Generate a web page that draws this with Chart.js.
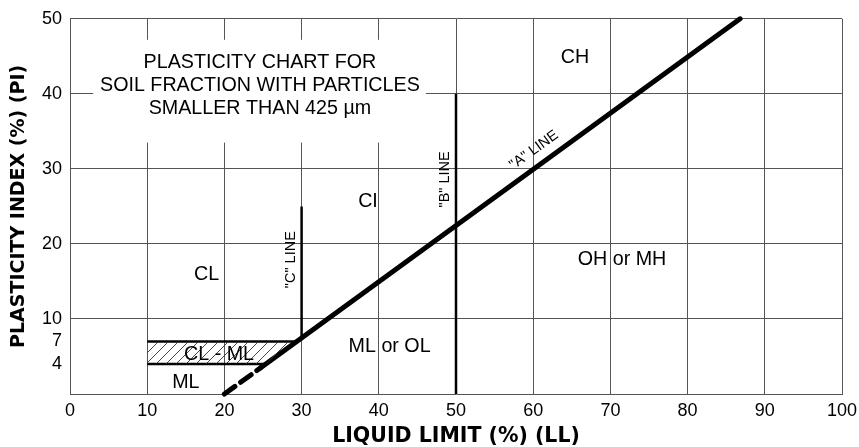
<!DOCTYPE html>
<html>
<head>
<meta charset="utf-8">
<script src="https://cdn.jsdelivr.net/npm/chart.js@4.4.1/dist/chart.umd.min.js"></script>
<style>
  html, body { margin: 0; padding: 0; background: #fff; }
</style>
</head>
<body>
<canvas id="chart" width="859" height="447"></canvas>
<script>
// "A" line: PI rises from 0 at LL 20, dashed up to the CL-ML band, then solid
const aDashLL = [20, 24.7];
const aDashPI = [0, 3.5];
const aLineLL = [24.7, 86.8];
const aLinePI = [3.5, 50];
// "B" and "C" lines
const bLineLL = [50, 50];
const bLinePI = [0, 40];
const cLineLL = [30, 30];
const cLinePI = [7.5, 25];
// CL - ML band between PI 4 and 7
const bandLL = [10, 25.3, 29.3, 10];
const bandPI = [4, 4, 7, 7];
const bandTopLL = [10, 29.3];
const bandTopPI = [7, 7];
const bandBotLL = [10, 25.3];
const bandBotPI = [4, 4];

const yTicks = [4, 7, 10, 20, 30, 40, 50];

// zone names and where they sit (LL, PI)
const zoneNames = ['CH', 'CI', 'CL', 'CL - ML', 'ML', 'ML or OL', 'OH or MH'];
const zoneLL = [65.4, 38.6, 17.7, 19.3, 15.0, 41.4, 71.5];
const zonePI = [44.8, 25.7, 15.9, 5.3, 1.5, 6.3, 17.9];

const lineNames = ['"C" LINE', '"B" LINE', '"A" LINE'];
const lineNameLL = [28.6, 48.6, 60.1];
const lineNamePI = [17.9, 28.6, 32.5];

const noteLines = ['PLASTICITY CHART FOR', 'SOIL FRACTION WITH PARTICLES', 'SMALLER THAN 425 \u00b5m'];
const noteLL = 24.6;
const notePI = [44.2, 41.1, 38.0];
const noteBoxLL = [3.0, 46.1];
const noteBoxPI = [33.5, 47.2];

const FONT = "'Liberation Sans', Arial, sans-serif";

function toPts(xs, ys) {
    return xs.map((x, i) => ({x: x, y: ys[i]}));
}

function hatchPattern() {
    const c = document.createElement('canvas');
    c.width = 10;
    c.height = 10;
    const g = c.getContext('2d');
    g.strokeStyle = '#333';
    g.lineWidth = 0.9;
    g.beginPath();
    g.moveTo(-1, 11);
    g.lineTo(11, -1);
    g.stroke();
    return g.createPattern(c, 'repeat');
}

const labelsPlugin = {
    id: 'labels',
    beforeDatasetsDraw(chart) {
        const {ctx, scales: {x, y}} = chart;
        const x0 = x.getPixelForValue(noteBoxLL[0]);
        const x1 = x.getPixelForValue(noteBoxLL[1]);
        const y0 = y.getPixelForValue(noteBoxPI[1]);
        const y1 = y.getPixelForValue(noteBoxPI[0]);
        ctx.save();
        ctx.fillStyle = '#fff';
        ctx.fillRect(x0, y0, x1 - x0, y1 - y0);
        ctx.restore();
    },
    afterDatasetsDraw(chart) {
        const {ctx, scales: {x, y}} = chart;
        ctx.save();
        ctx.fillStyle = '#000';
        ctx.textAlign = 'center';
        ctx.textBaseline = 'middle';
        ctx.font = '19.7px ' + FONT;
        noteLines.forEach((t, i) => {
            ctx.fillText(t, x.getPixelForValue(noteLL), y.getPixelForValue(notePI[i]));
        });
        zoneNames.forEach((t, i) => {
            ctx.fillText(t, x.getPixelForValue(zoneLL[i]), y.getPixelForValue(zonePI[i]));
        });
        // line names, rotated along their lines
        const dx = x.getPixelForValue(aLineLL[1]) - x.getPixelForValue(aLineLL[0]);
        const dy = y.getPixelForValue(aLinePI[1]) - y.getPixelForValue(aLinePI[0]);
        const angles = [-Math.PI / 2, -Math.PI / 2, Math.atan2(dy, dx)];
        ctx.font = '14.5px ' + FONT;
        lineNames.forEach((t, i) => {
            ctx.save();
            ctx.translate(x.getPixelForValue(lineNameLL[i]), y.getPixelForValue(lineNamePI[i]));
            ctx.rotate(angles[i]);
            ctx.fillText(t, 0, 0);
            ctx.restore();
        });
        ctx.restore();
    }
};

const ctx = document.getElementById('chart').getContext('2d');

new Chart(ctx, {
    type: 'scatter',
    data: {
        datasets: [
            {
                label: 'CL - ML',
                data: toPts(bandLL, bandPI),
                showLine: true,
                fill: 'shape',
                backgroundColor: hatchPattern(),
                borderWidth: 0,
                pointRadius: 0,
            },
            {
                label: 'band top',
                data: toPts(bandTopLL, bandTopPI),
                showLine: true,
                borderColor: '#000',
                borderWidth: 2.5,
                pointRadius: 0,
            },
            {
                label: 'band bottom',
                data: toPts(bandBotLL, bandBotPI),
                showLine: true,
                borderColor: '#000',
                borderWidth: 2.5,
                pointRadius: 0,
            },
            {
                label: 'B line',
                data: toPts(bLineLL, bLinePI),
                showLine: true,
                borderColor: '#000',
                borderWidth: 2.5,
                pointRadius: 0,
            },
            {
                label: 'C line',
                data: toPts(cLineLL, cLinePI),
                showLine: true,
                borderColor: '#000',
                borderWidth: 2.5,
                pointRadius: 0,
            },
            {
                label: 'A line dashed',
                data: toPts(aDashLL, aDashPI),
                showLine: true,
                borderColor: '#000',
                borderWidth: 5,
                borderDash: [13, 7],
                borderCapStyle: 'round',
                pointRadius: 0,
                clip: false,
            },
            {
                label: 'A line',
                data: toPts(aLineLL, aLinePI),
                showLine: true,
                borderColor: '#000',
                borderWidth: 5,
                borderCapStyle: 'round',
                pointRadius: 0,
                clip: false,
            },
        ]
    },
    options: {
        responsive: false,
        animation: false,
        layout: {
            padding: {top: 18, right: 17, left: 0, bottom: 0}
        },
        plugins: {
            legend: {display: false},
            tooltip: {enabled: false},
        },
        scales: {
            x: {
                type: 'linear',
                min: 0,
                max: 100,
                ticks: {
                    stepSize: 10,
                    padding: 6,
                    color: '#000',
                    font: {family: FONT, size: 18},
                },
                grid: {color: '#555', lineWidth: 1, drawTicks: false},
                border: {color: '#555', width: 1},
                title: {
                    display: true,
                    text: 'LIQUID LIMIT (%) (LL)',
                    color: '#000',
                    font: {family: "'DejaVu Sans'", size: 20.5, weight: 'bold'},
                    padding: {top: 0, bottom: -2},
                },
                afterFit(scale) {
                    scale.height = 53;
                    scale.paddingLeft = 0;
                    scale.paddingRight = 0;
                },
            },
            y: {
                type: 'linear',
                min: 0,
                max: 50,
                afterBuildTicks(scale) {
                    scale.ticks = yTicks.map(v => ({value: v}));
                },
                ticks: {
                    padding: 8,
                    color: '#000',
                    font: {family: FONT, size: 18},
                },
                grid: {
                    color: c => (c.tick && (c.tick.value === 4 || c.tick.value === 7)) ? 'rgba(0,0,0,0)' : '#555',
                    lineWidth: 1,
                    drawTicks: false,
                },
                border: {color: '#555', width: 1},
                title: {
                    display: true,
                    text: 'PLASTICITY INDEX (%) (PI)',
                    color: '#000',
                    font: {family: "'DejaVu Sans'", size: 19, weight: 'bold'},
                    padding: {top: 8, bottom: 0},
                },
                afterFit(scale) {
                    scale.width = 70;
                },
            },
        },
    },
    plugins: [labelsPlugin],
});
</script>
</body>
</html>
